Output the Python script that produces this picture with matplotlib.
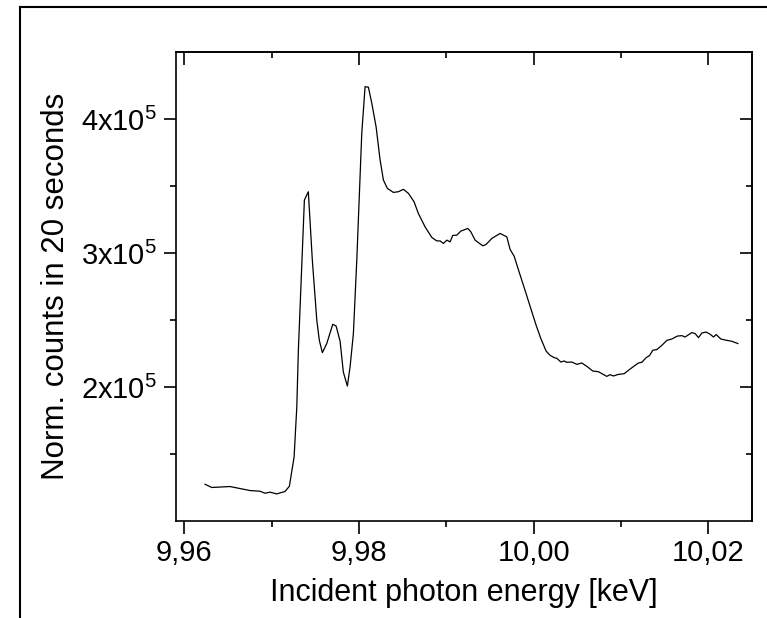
import matplotlib
matplotlib.use("Agg")
import matplotlib.pyplot as plt
from matplotlib.lines import Line2D
from matplotlib.ticker import FixedLocator, FuncFormatter

# -----------------------
# Data
# -----------------------
energy_kev = [
    9.96237, 9.96314, 9.96523, 9.96753, 9.96867, 9.96924, 9.96982, 9.97058,
    9.97153, 9.97203, 9.97257, 9.97288, 9.97306, 9.97375, 9.97420, 9.97466,
    9.97517, 9.97546, 9.97581, 9.97631, 9.97700, 9.97738, 9.97784, 9.97821,
    9.97867, 9.97898, 9.97936, 9.97975, 9.98032, 9.98070, 9.98108, 9.98147,
    9.98196, 9.98242, 9.98280, 9.98325, 9.98394, 9.98451, 9.98509, 9.98566,
    9.98631, 9.98680, 9.98757, 9.98834, 9.98891, 9.98929, 9.98967, 9.99006,
    9.99044, 9.99074, 9.99120, 9.99166, 9.99246, 9.99281, 9.99330, 9.99418,
    9.99456, 9.99521, 9.99616, 9.99693, 9.99731, 9.99777, 9.99846, 9.99914,
    9.99968, 10.00029, 10.00083, 10.00143, 10.00189, 10.00235, 10.00266,
    10.00312, 10.00349, 10.00380, 10.00438, 10.00495, 10.00552, 10.00609,
    10.00678, 10.00742, 10.00838, 10.00876, 10.00914, 10.00971, 10.01037,
    10.01105, 10.01200, 10.01239, 10.01289, 10.01327, 10.01365, 10.01411,
    10.01469, 10.01526, 10.01583, 10.01647, 10.01698, 10.01735, 10.01812,
    10.01850, 10.01888, 10.01927, 10.01976, 10.02022, 10.02060, 10.02091,
    10.02144, 10.02213, 10.02270, 10.02339,
]

counts = [
    127400, 125000, 125700, 122700, 122200, 120700, 121500, 120200,
    122000, 125900, 147600, 185000, 227400, 339500, 345700, 294600,
    249800, 234800, 225600, 232400, 246800, 245500, 234100, 211100,
    200700, 214900, 239800, 294600, 389300, 424100, 423700, 411700,
    394200, 369400, 354400, 348200, 345200, 345700, 347500, 344500,
    338200, 329500, 319500, 311600, 309000, 309000, 307100, 309600,
    308300, 313100, 313300, 316300, 318300, 315800, 309600, 305300,
    306400, 310800, 314600, 312000, 302600, 297600, 283400, 269700,
    258500, 246000, 236100, 226800, 223600, 221900, 221400,
    218600, 219400, 218400, 218600, 216900, 217900, 215400,
    211900, 211400, 207900, 209200, 208200, 209400, 209900,
    213400, 217900, 218400, 221900, 223400, 227400, 227900,
    231100, 234800, 235800, 238000, 238300, 237300, 240600,
    239800, 236800, 240300, 241000, 239300, 237300, 239100,
    235800, 234800, 234100, 232400,
]

x_major = [9.96, 9.98, 10.00, 10.02]
x_minor = [9.97, 9.99, 10.01]
y_major = [2e5, 3e5, 4e5]
y_minor = [1.5e5, 2.5e5, 3.5e5]

# -----------------------
# Style
# -----------------------
plt.rcParams["font.family"] = ["Liberation Sans", "DejaVu Sans"]
plt.rcParams["mathtext.fontset"] = "custom"
plt.rcParams["mathtext.rm"] = "Liberation Sans"
plt.rcParams["mathtext.it"] = "Liberation Sans:italic"

fig = plt.figure(figsize=(7.67, 6.18), dpi=100, facecolor="white")

# outer frame (only left and top edges are inside the picture)
fig.add_artist(Line2D([0.0261, 0.0261], [0.0, 0.9887],
                      transform=fig.transFigure, color="black", lw=1.5))
fig.add_artist(Line2D([0.0261, 1.0], [0.9887, 0.9887],
                      transform=fig.transFigure, color="black", lw=1.5))

ax = fig.add_axes([0.2295, 0.1570, 0.9800 - 0.2295, 0.9159 - 0.1570])

ax.plot(energy_kev, counts, color="black", lw=0.9)

ax.set_xlim(9.95905, 10.02497)
ax.set_ylim(1.0e5, 4.5e5)

for sp in ax.spines.values():
    sp.set_linewidth(1.2)

# -----------------------
# Ticks
# -----------------------
ax.xaxis.set_major_locator(FixedLocator(x_major))
ax.xaxis.set_minor_locator(FixedLocator(x_minor))
ax.yaxis.set_major_locator(FixedLocator(y_major))
ax.yaxis.set_minor_locator(FixedLocator(y_minor))

ax.xaxis.set_major_formatter(FuncFormatter(lambda v, p: f"{v:.2f}".replace(".", ",")))
ax.yaxis.set_major_formatter(FuncFormatter(
    lambda v, p: r"$\mathregular{%dx10^5}$" % round(v / 1e5)))

ax.tick_params(axis="both", which="major", length=9, width=1.2, labelsize=21)
ax.tick_params(axis="both", which="minor", length=4.5, width=1.2)
ax.tick_params(axis="x", which="both", direction="out", pad=4)
ax.tick_params(axis="y", which="both", direction="out", pad=5)

# top / right ticks pointing inward
top = ax.secondary_xaxis("top")
top.xaxis.set_major_locator(FixedLocator(x_major))
top.xaxis.set_minor_locator(FixedLocator(x_minor))
top.tick_params(which="major", direction="in", length=9, width=1.2, labeltop=False)
top.tick_params(which="minor", direction="in", length=4.5, width=1.2)
top.spines["top"].set_linewidth(1.2)

right = ax.secondary_yaxis("right")
right.yaxis.set_major_locator(FixedLocator(y_major))
right.yaxis.set_minor_locator(FixedLocator(y_minor))
right.tick_params(which="major", direction="in", length=9, width=1.2, labelright=False)
right.tick_params(which="minor", direction="in", length=4.5, width=1.2)
right.spines["right"].set_linewidth(1.2)

# -----------------------
# Labels
# -----------------------
ax.set_xlabel("Incident photon energy [keV]", fontsize=22, labelpad=8)
ax.set_ylabel("Norm. counts in 20 seconds", fontsize=22.5, labelpad=7)

fig.savefig("out.png", dpi=100, facecolor="white")
plt.close(fig)
